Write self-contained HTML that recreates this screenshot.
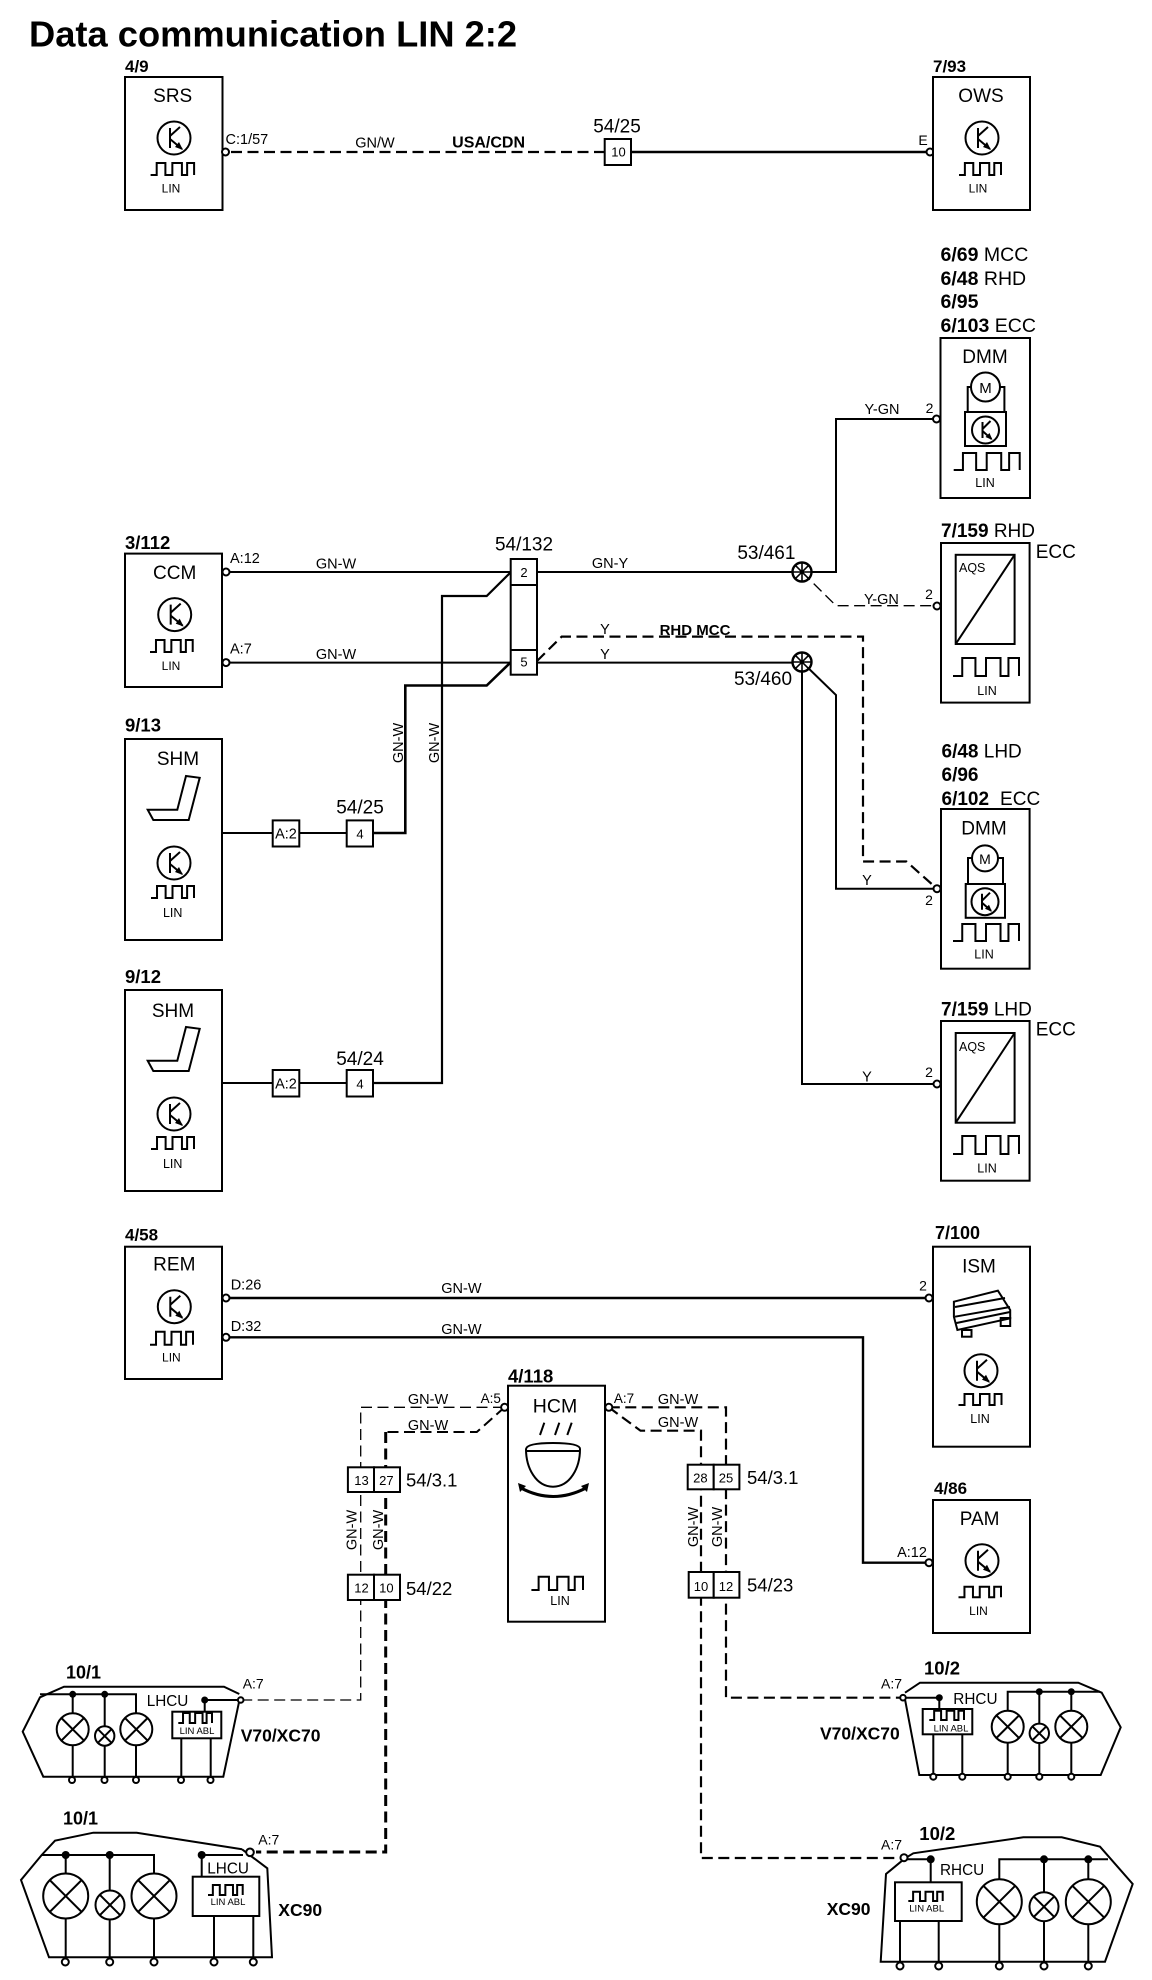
<!DOCTYPE html>
<html><head><meta charset="utf-8"><style>
html,body{margin:0;padding:0;background:#fff}
svg{display:block}
text{font-family:"Liberation Sans",sans-serif;fill:#000;stroke:none}
.c{text-anchor:middle}.b{font-weight:bold}
.n{fill:none;stroke:#000;stroke-width:2}
.r{fill:#fff;stroke:#000;stroke-width:2}
.p{fill:#fff;stroke:#000;stroke-width:2}
.d{fill:none;stroke:#000;stroke-width:2.2;stroke-dasharray:11 5.5}
.t{fill:none;stroke:#000;stroke-width:1.3;stroke-dasharray:11 5.5}
.h{fill:none;stroke:#000;stroke-width:3;stroke-dasharray:11 5.5}
</style></head><body>
<svg width="1152" height="1980" viewBox="0 0 1152 1980" xmlns="http://www.w3.org/2000/svg">
<defs>
<symbol id="w" viewBox="0 0 100 100" preserveAspectRatio="none" overflow="visible"><path vector-effect="non-scaling-stroke" d="M0 100H14V0H34V100H50V0H72V100H84V0H100V100" fill="none" stroke="#000" stroke-width="2"/></symbol>
<g id="k"><circle r="16.5" fill="#fff" stroke="#000" stroke-width="2"/><path d="M-4-10V10M-4-2L6-11M-4 1L8 11" fill="none" stroke="#000" stroke-width="2"/><path d="M9 12L1 9 5 4Z"/></g>
<g id="k2"><circle r="13.5" fill="#fff" stroke="#000" stroke-width="2"/><path d="M-3-8V8M-3-1L5-9M-3 1L6 9" fill="none" stroke="#000" stroke-width="2"/><path d="M7 10L0 7 4 3Z"/></g>
<g id="L16"><circle r="16" fill="#fff" stroke="#000" stroke-width="2"/><path d="M-11.3-11.3L11.3 11.3M-11.3 11.3L11.3-11.3" stroke="#000" stroke-width="2"/></g>
<g id="L10"><circle r="9.7" fill="#fff" stroke="#000" stroke-width="2"/><path d="M-6.9-6.9L6.9 6.9M-6.9 6.9L6.9-6.9" stroke="#000" stroke-width="2"/></g>
<g id="L22"><circle r="22.5" fill="#fff" stroke="#000" stroke-width="2"/><path d="M-16-16L16 16M-16 16L16-16" stroke="#000" stroke-width="2"/></g>
<g id="L14"><circle r="14.5" fill="#fff" stroke="#000" stroke-width="2"/><path d="M-10.3-10.3L10.3 10.3M-10.3 10.3L10.3-10.3" stroke="#000" stroke-width="2"/></g>
<g id="j"><circle r="9.5" fill="#fff" stroke="#000" stroke-width="2.4"/><path d="M-9.5 0H9.5M0-9.5V9.5M-6.7-6.7L6.7 6.7M-6.7 6.7L6.7-6.7" stroke="#000" stroke-width="1.6"/></g>
</defs>

<text x="29" y="46.5" font-size="36.3" class="b">Data communication LIN 2:2</text>

<!-- wires -->
<g class="n">
<path d="M631 152H930" stroke-width="2.6"/>
<path d="M229 572H511M537 572H802M229 662.6H511M537 662.6H802"/>
<path d="M802 572H836V419H936" stroke-width="2"/>
<path d="M511 572L486.7 596H442V1083H373" stroke-width="2.2"/>
<path d="M511 662L486.7 685.5H405.3V833H373" stroke-width="2.6"/>
<path d="M222 833H273M299 833H347M222 1083H273M299 1083H347"/>
<path d="M802 662L836 695V888.7H937"/>
<path d="M802 662V1084H937"/>
<path d="M229 1298H929" stroke-width="2.6"/>
<path d="M229 1337.3H863V1562.7H929" stroke-width="2.4"/>
</g>
<path class="d" d="M231 152H606"/>
<path class="d" d="M537 661L561.7 636.6H863V861.5H906.4L937 888.7"/>
<path class="t" d="M802 572L836 605.7H936"/>
<path class="t" d="M504 1407.3H360.7V1700H238"/>
<path class="t" style="stroke-width:2" d="M504.6 1407.3L476.8 1432H385.7"/>
<path class="h" d="M385.7 1432V1852H256"/>
<path class="d" d="M608.8 1407.3H726V1697.7H903"/>
<path class="d" d="M608.8 1407.3L640.5 1430.7H701V1858H901"/>

<!-- SRS -->
<rect class="r" x="125" y="77" width="97.5" height="133"/>
<text x="125" y="72" font-size="17" class="b">4/9</text>
<text x="172.7" y="102" font-size="19" class="c">SRS</text>
<use href="#k" transform="translate(174 138)"/>
<use href="#w" x="150.6" y="163" width="43.5" height="12"/>
<text x="171" y="192.7" font-size="12" class="c">LIN</text>
<circle class="p" cx="225.5" cy="152" r="3.5"/>
<text x="225.5" y="144" font-size="14.5">C:1/57</text>
<text x="375" y="147.6" font-size="14.5" class="c">GN/W</text>
<text x="488.6" y="147.6" font-size="16" class="c b">USA/CDN</text>
<text x="617" y="132.7" font-size="19" class="c">54/25</text>
<rect class="r" x="604.7" y="139" width="26.3" height="26"/>
<text x="618.5" y="156.5" font-size="13" class="c">10</text>
<!-- OWS -->
<circle class="p" cx="930" cy="152" r="3.5"/>
<text x="923" y="145" font-size="14" class="c">E</text>
<rect class="r" x="933" y="77" width="97" height="133"/>
<text x="933" y="72" font-size="17" class="b">7/93</text>
<text x="981" y="102" font-size="19" class="c">OWS</text>
<use href="#k" transform="translate(982 138)"/>
<use href="#w" x="959" y="163" width="42" height="12"/>
<text x="978" y="192.7" font-size="12" class="c">LIN</text>

<!-- DMM top -->
<g font-size="19.5">
<text x="940.5" y="261"><tspan class="b">6/69</tspan> MCC</text>
<text x="940.5" y="285"><tspan class="b">6/48</tspan> RHD</text>
<text x="940.5" y="308" class="b">6/95</text>
<text x="940.5" y="332"><tspan class="b">6/103</tspan> ECC</text>
</g>
<rect class="r" x="940.5" y="338" width="89.5" height="160"/>
<text x="985" y="363" font-size="19" class="c">DMM</text>
<path class="n" d="M967.7 412V387H1004.4V412"/>
<circle cx="985.5" cy="387" r="14.5" fill="#fff" stroke="#000" stroke-width="2"/>
<text x="985.5" y="393" font-size="15" class="c">M</text>
<rect class="r" x="965" y="412" width="41" height="34"/>
<use href="#k2" transform="translate(985.5 430)"/>
<use href="#w" x="953.7" y="453" width="66" height="17"/>
<text x="985" y="487" font-size="12.5" class="c">LIN</text>
<circle class="p" cx="936.5" cy="419" r="3.5"/>
<text x="929.5" y="413" font-size="14" class="c">2</text>
<text x="882" y="414" font-size="14.5" class="c">Y-GN</text>

<!-- CCM -->
<rect class="r" x="125" y="553.6" width="97" height="133.4"/>
<text x="125" y="549" font-size="18.5" class="b">3/112</text>
<text x="174.7" y="579" font-size="19" class="c">CCM</text>
<use href="#k" transform="translate(174.7 614.6)"/>
<use href="#w" x="150" y="640" width="42.7" height="12"/>
<text x="171" y="670" font-size="12" class="c">LIN</text>
<circle class="p" cx="226" cy="572" r="3.5"/>
<circle class="p" cx="226" cy="662.6" r="3.5"/>
<text x="230" y="563" font-size="14.5">A:12</text>
<text x="230" y="653.6" font-size="14.5">A:7</text>
<text x="336" y="568.4" font-size="14.5" class="c">GN-W</text>
<text x="336" y="659" font-size="14.5" class="c">GN-W</text>

<!-- connector 54/132 -->
<rect class="r" x="510.7" y="559" width="26.3" height="115.7"/>
<path class="n" d="M510.7 585H537M510.7 650H537"/>
<text x="524" y="550.5" font-size="19" class="c">54/132</text>
<text x="524" y="577" font-size="13" class="c">2</text>
<text x="524" y="666.6" font-size="13" class="c">5</text>

<!-- SHM 9/13 -->
<rect class="r" x="125" y="739" width="97" height="201"/>
<text x="125" y="731.6" font-size="18.5" class="b">9/13</text>
<text x="178" y="765" font-size="19" class="c">SHM</text>
<path class="n" d="M147.7 809.7H177.3L186 776 199.7 777.8 188.7 820H153.3Z"/>
<use href="#k" transform="translate(174 863)"/>
<use href="#w" x="151" y="886" width="43" height="12"/>
<text x="172.7" y="917" font-size="12.5" class="c">LIN</text>
<rect class="r" x="272.7" y="820.4" width="26.6" height="26.1"/>
<text x="286" y="838.4" font-size="14.5" class="c">A:2</text>
<rect class="r" x="346.7" y="820.4" width="26.3" height="26.1"/>
<text x="360" y="838.4" font-size="13" class="c">4</text>
<text x="360" y="813.7" font-size="19" class="c">54/25</text>
<text transform="translate(403 743) rotate(-90)" font-size="14.5" class="c">GN-W</text>
<text transform="translate(439 743) rotate(-90)" font-size="14.5" class="c">GN-W</text>

<!-- SHM 9/12 -->
<rect class="r" x="125" y="990" width="97" height="201"/>
<text x="125" y="983" font-size="18.5" class="b">9/12</text>
<text x="173" y="1017" font-size="19" class="c">SHM</text>
<path class="n" d="M147.7 1060.7H177.3L186 1027 199.7 1028.8 188.7 1071H153.3Z"/>
<use href="#k" transform="translate(174 1114)"/>
<use href="#w" x="151" y="1137" width="43" height="12"/>
<text x="172.7" y="1168" font-size="12.5" class="c">LIN</text>
<rect class="r" x="272.7" y="1070" width="26.6" height="26.5"/>
<text x="286" y="1088.4" font-size="14.5" class="c">A:2</text>
<rect class="r" x="346.7" y="1070" width="26.3" height="26.5"/>
<text x="360" y="1088.4" font-size="13" class="c">4</text>
<text x="360" y="1065" font-size="19" class="c">54/24</text>

<!-- middle right -->
<use href="#j" transform="translate(802 572)"/>
<use href="#j" transform="translate(802 662)"/>
<text x="766.4" y="559" font-size="19" class="c">53/461</text>
<text x="763" y="685" font-size="19" class="c">53/460</text>
<text x="610" y="568" font-size="14.5" class="c">GN-Y</text>
<text x="881.4" y="604" font-size="14.5" class="c">Y-GN</text>
<text x="929" y="599" font-size="14" class="c">2</text>
<text x="605" y="634" font-size="14.5" class="c">Y</text>
<text x="695" y="635" font-size="15" class="c b">RHD MCC</text>
<text x="605" y="659" font-size="14.5" class="c">Y</text>
<text x="867" y="885" font-size="14.5" class="c">Y</text>
<text x="929" y="905" font-size="14" class="c">2</text>
<text x="867" y="1081.6" font-size="14.5" class="c">Y</text>
<text x="929" y="1077" font-size="14" class="c">2</text>

<!-- AQS RHD -->
<text x="941" y="537" font-size="19"><tspan class="b">7/159</tspan> RHD</text>
<rect class="r" x="941" y="543" width="88.6" height="159.6"/>
<text x="1035.7" y="558" font-size="19">ECC</text>
<rect class="r" x="955.7" y="554.8" width="58.9" height="89.2"/>
<path class="n" d="M955.7 644L1014.6 554.8"/>
<text x="959" y="572" font-size="12.5">AQS</text>
<use href="#w" x="953" y="658" width="66" height="18"/>
<text x="987" y="695" font-size="12.5" class="c">LIN</text>
<circle class="p" cx="937" cy="606" r="3.5"/>

<!-- DMM LHD -->
<g font-size="19">
<text x="941.5" y="757.5"><tspan class="b">6/48</tspan> LHD</text>
<text x="941.5" y="781" class="b">6/96</text>
<text x="941.5" y="805"><tspan class="b">6/102</tspan><tspan dx="11">ECC</tspan></text>
</g>
<rect class="r" x="941" y="809" width="88.6" height="159.7"/>
<text x="984" y="834.7" font-size="19" class="c">DMM</text>
<path class="n" d="M968 884V858H1003V884"/>
<circle cx="985" cy="858.4" r="13" fill="#fff" stroke="#000" stroke-width="2"/>
<text x="985" y="864" font-size="14" class="c">M</text>
<rect class="r" x="965.7" y="884" width="39.3" height="33.8"/>
<use href="#k2" transform="translate(985 901.7)"/>
<use href="#w" x="953" y="924" width="66" height="17"/>
<text x="984" y="958.4" font-size="12.5" class="c">LIN</text>
<circle class="p" cx="937" cy="888.7" r="3.5"/>

<!-- AQS LHD -->
<text x="941" y="1015.5" font-size="19"><tspan class="b">7/159</tspan> LHD</text>
<rect class="r" x="941" y="1021" width="88.6" height="159.7"/>
<text x="1035.7" y="1035.6" font-size="19">ECC</text>
<rect class="r" x="955.7" y="1033" width="58.9" height="89.7"/>
<path class="n" d="M955.7 1122.7L1014.6 1033"/>
<text x="959" y="1051" font-size="12.5">AQS</text>
<use href="#w" x="953" y="1136" width="66" height="18"/>
<text x="987" y="1172.7" font-size="12.5" class="c">LIN</text>
<circle class="p" cx="937" cy="1084" r="3.5"/>

<!-- REM -->
<rect class="r" x="125" y="1246.7" width="97" height="132.3"/>
<text x="125" y="1240.7" font-size="17" class="b">4/58</text>
<text x="174.3" y="1270.7" font-size="19" class="c">REM</text>
<use href="#k" transform="translate(174.3 1306.7)"/>
<use href="#w" x="150" y="1331.7" width="43" height="13"/>
<text x="171.4" y="1361.7" font-size="12" class="c">LIN</text>
<circle class="p" cx="226" cy="1298" r="3.5"/>
<circle class="p" cx="226" cy="1337.3" r="3.5"/>
<text x="230.7" y="1289.3" font-size="14.5">D:26</text>
<text x="230.7" y="1331" font-size="14.5">D:32</text>
<text x="461.4" y="1293" font-size="14.5" class="c">GN-W</text>
<text x="461.4" y="1334" font-size="14.5" class="c">GN-W</text>

<!-- ISM -->
<rect class="r" x="933" y="1246.7" width="97" height="200"/>
<text x="935" y="1239" font-size="18" class="b">7/100</text>
<text x="979" y="1272.7" font-size="19" class="c">ISM</text>
<text x="923" y="1290.7" font-size="14" class="c">2</text>
<circle class="p" cx="929" cy="1298" r="3.5"/>
<path class="n" d="M953.9 1301.7L997.9 1290.7 1010.2 1310V1318.3L957.4 1330 953.9 1316.7Z"/>
<path class="n" d="M955 1307L1005 1298M955 1316.7L1010 1307M956.5 1323L1010 1312"/>
<rect class="n" x="962" y="1330" width="9.5" height="6.7"/>
<rect class="n" x="1000.7" y="1318" width="9.5" height="8"/>
<use href="#k" transform="translate(981 1370.7)"/>
<use href="#w" x="958.5" y="1394" width="43" height="11"/>
<text x="980" y="1423" font-size="12.5" class="c">LIN</text>

<!-- PAM -->
<rect class="r" x="933" y="1500" width="97" height="133"/>
<text x="934" y="1494" font-size="17" class="b">4/86</text>
<text x="979.6" y="1525" font-size="19" class="c">PAM</text>
<text x="912" y="1557" font-size="14.5" class="c">A:12</text>
<circle class="p" cx="929" cy="1562.7" r="3.5"/>
<use href="#k" transform="translate(982 1560.7)"/>
<use href="#w" x="958.5" y="1586.7" width="42.5" height="10.5"/>
<text x="978.5" y="1615" font-size="12" class="c">LIN</text>

<!-- HCM -->
<rect class="r" x="508" y="1385.7" width="97" height="236"/>
<text x="508" y="1382.7" font-size="18.5" class="b">4/118</text>
<text x="555" y="1412.7" font-size="19.5" class="c">HCM</text>
<path class="n" d="M540 1435L544.3 1422.7M555 1435L559.3 1422.7M567.3 1435L571.7 1422.7"/>
<path class="n" stroke-width="2.4" d="M526 1449Q527 1443 553 1443Q580 1443 580 1449C580 1468 570 1486.7 553 1486.7C536 1486.7 526 1468 526 1449ZM526 1451H580"/>
<path fill="none" stroke="#000" stroke-width="3" d="M521 1488Q553 1505 586 1488"/>
<path d="M518 1483L526 1486 520 1492ZM589 1483L581 1486 587 1492Z"/>
<use href="#w" x="531.4" y="1576.7" width="51.6" height="13.3"/>
<text x="560" y="1605" font-size="12.5" class="c">LIN</text>
<circle class="p" cx="504.6" cy="1407.3" r="3.5"/>
<circle class="p" cx="608.8" cy="1407.3" r="3.5"/>
<text x="490.7" y="1403" font-size="13.5" class="c">A:5</text>
<text x="624" y="1403" font-size="13.5" class="c">A:7</text>
<text x="428" y="1404" font-size="14.5" class="c">GN-W</text>
<text x="428" y="1430" font-size="14.5" class="c">GN-W</text>
<text x="678" y="1404" font-size="14.5" class="c">GN-W</text>
<text x="678" y="1427" font-size="14.5" class="c">GN-W</text>

<!-- left connectors -->
<rect class="r" x="347.9" y="1467.3" width="26.1" height="24.7"/>
<rect class="r" x="374" y="1467.3" width="26" height="24.7"/>
<text x="361.5" y="1485" font-size="13" class="c">13</text>
<text x="386.4" y="1485" font-size="13" class="c">27</text>
<text x="406" y="1486.7" font-size="18.5">54/3.1</text>
<rect class="r" x="347.9" y="1574.7" width="26.1" height="25.3"/>
<rect class="r" x="374" y="1574.7" width="26" height="25.3"/>
<text x="361.5" y="1592.7" font-size="13" class="c">12</text>
<text x="386.4" y="1592.7" font-size="13" class="c">10</text>
<text x="406" y="1595" font-size="18.5">54/22</text>
<text transform="translate(356.4 1530) rotate(-90)" font-size="14.5" class="c">GN-W</text>
<text transform="translate(382.9 1530) rotate(-90)" font-size="14.5" class="c">GN-W</text>

<!-- right connectors -->
<rect class="r" x="687.7" y="1464.7" width="26" height="24.6"/>
<rect class="r" x="713.7" y="1464.7" width="25.7" height="24.6"/>
<text x="700.4" y="1482.7" font-size="13" class="c">28</text>
<text x="726" y="1482.7" font-size="13" class="c">25</text>
<text x="747" y="1484" font-size="18.5">54/3.1</text>
<rect class="r" x="688.7" y="1572" width="25" height="25.7"/>
<rect class="r" x="713.7" y="1572" width="25.7" height="25.7"/>
<text x="701" y="1591" font-size="13" class="c">10</text>
<text x="726" y="1591" font-size="13" class="c">12</text>
<text x="747" y="1591.7" font-size="18.5">54/23</text>
<text transform="translate(698 1527) rotate(-90)" font-size="14.5" class="c">GN-W</text>
<text transform="translate(722 1527) rotate(-90)" font-size="14.5" class="c">GN-W</text>

<!-- 10/1 V70 -->
<text x="66" y="1678.7" font-size="18" class="b">10/1</text>
<path class="n" d="M239.3 1694L224 1686.7H64L40 1697.3 22.7 1731.7 43.3 1776.7H223.3L239.3 1700.7"/>
<path class="n" d="M40 1694.3H136V1776.7M72.7 1694.3V1776.7M104.7 1694.3V1776.7M181.3 1738V1776.7M210.7 1738V1776.7"/>
<path class="n" stroke-width="1.5" d="M204.7 1700H238M204.7 1700V1711.7"/>
<use href="#L16" transform="translate(72.7 1729.3)"/>
<use href="#L10" transform="translate(104.7 1736)"/>
<use href="#L16" transform="translate(136.3 1729.3)"/>
<circle cx="72.7" cy="1694.3" r="3.5"/><circle cx="104.7" cy="1694.3" r="3.5"/><circle cx="204.7" cy="1700" r="3.5"/>
<rect class="r" x="172.3" y="1711.7" width="49" height="26.6"/>
<use href="#w" x="178.3" y="1713" width="33.7" height="10"/>
<text x="197" y="1734" font-size="9.5" class="c">LIN ABL</text>
<text x="146.7" y="1706" font-size="15.3">LHCU</text>
<circle class="p" cx="240.7" cy="1700" r="2.8"/>
<text x="242.7" y="1688.7" font-size="14">A:7</text>
<text x="240.7" y="1741.7" font-size="17.5" class="b">V70/XC70</text>
<circle class="p" cx="72" cy="1780" r="3"/><circle class="p" cx="104.5" cy="1780" r="3"/><circle class="p" cx="136" cy="1780" r="3"/><circle class="p" cx="181" cy="1780" r="3"/><circle class="p" cx="210.5" cy="1780" r="3"/>

<!-- 10/1 XC90 -->
<text x="63" y="1824.3" font-size="18" class="b">10/1</text>
<path class="n" d="M242 1849.3L136.7 1832.7H93.3L55 1840.7 41.7 1855 21 1880 49 1957.3H272L267.3 1868.3 242 1849.3"/>
<path class="n" d="M41.7 1855H154V1957.3M65.7 1855V1957.3M109.7 1855V1957.3M201.7 1855H243M201.7 1855V1876.7M214 1916V1957.3M253.3 1916V1957.3"/>
<use href="#L22" transform="translate(65.7 1896)"/>
<use href="#L14" transform="translate(110 1905)"/>
<use href="#L22" transform="translate(154 1896)"/>
<circle cx="65.7" cy="1855" r="4"/><circle cx="109.7" cy="1855" r="4"/><circle cx="201.7" cy="1855" r="4"/>
<rect class="r" x="192.7" y="1876.7" width="66.6" height="39.3"/>
<use href="#w" x="208" y="1885" width="34.7" height="10"/>
<text x="228" y="1905" font-size="9.5" class="c">LIN ABL</text>
<text x="207.3" y="1873.3" font-size="15.3">LHCU</text>
<circle class="p" cx="250" cy="1852.3" r="3.8"/>
<text x="258.3" y="1844.7" font-size="14">A:7</text>
<text x="278.3" y="1916" font-size="17.5" class="b">XC90</text>
<circle class="p" cx="65.3" cy="1962" r="3.5"/><circle class="p" cx="109.7" cy="1962" r="3.5"/><circle class="p" cx="154" cy="1962" r="3.5"/><circle class="p" cx="214" cy="1962" r="3.5"/><circle class="p" cx="253.3" cy="1962" r="3.5"/>

<!-- 10/2 V70 -->
<text x="924" y="1674.7" font-size="18.5" class="b">10/2</text>
<path class="n" d="M905 1692.7L920 1682.7H1078.3L1101.7 1692.7 1120.7 1727.3 1100.7 1775H919.3L905 1699.3"/>
<path class="n" d="M903 1697.7H939.3V1709M933.3 1734V1775M962.3 1734V1775M1100 1691.7H1007.7V1775M1039.3 1691.7V1775M1071.3 1691.7V1775"/>
<use href="#L16" transform="translate(1007.7 1726.7)"/>
<use href="#L10" transform="translate(1039.3 1733.3)"/>
<use href="#L16" transform="translate(1071.3 1726.7)"/>
<circle cx="939.3" cy="1697.7" r="3.5"/><circle cx="1039.3" cy="1691.7" r="3.5"/><circle cx="1071.3" cy="1691.7" r="3.5"/>
<rect class="r" x="922.7" y="1709" width="49.6" height="25.3"/>
<use href="#w" x="929.3" y="1710.7" width="34.7" height="9.3"/>
<text x="951" y="1731.3" font-size="9.5" class="c">LIN ABL</text>
<text x="953.3" y="1704" font-size="15.3">RHCU</text>
<circle class="p" cx="903" cy="1697.7" r="2.8"/>
<text x="881" y="1688.3" font-size="14">A:7</text>
<text x="820" y="1739.3" font-size="17.5" class="b">V70/XC70</text>
<circle class="p" cx="933.3" cy="1776.7" r="3"/><circle class="p" cx="962.3" cy="1776.7" r="3"/><circle class="p" cx="1007.7" cy="1776.7" r="3"/><circle class="p" cx="1039.3" cy="1776.7" r="3"/><circle class="p" cx="1071.3" cy="1776.7" r="3"/>

<!-- 10/2 XC90 -->
<text x="919.3" y="1840" font-size="18.5" class="b">10/2</text>
<path class="n" d="M905 1858.3L913.3 1853.3 1023.3 1837.3H1061.7L1100 1846.7 1132.7 1884 1105 1961.7H880.7L886 1874 905 1858.3"/>
<path class="n" d="M904 1859.3H930.7M1108 1859.3H999.3V1961.7M1044 1859.3V1961.7M1088.3 1859.3V1961.7M938.7 1921V1961.7"/>
<path class="n" stroke-width="1.3" d="M930.7 1859.3V1882.3M900 1921V1961.7"/>
<use href="#L22" transform="translate(999.3 1901.7)"/>
<use href="#L14" transform="translate(1044 1906.7)"/>
<use href="#L22" transform="translate(1088.3 1901.7)"/>
<circle cx="930.7" cy="1859.3" r="4"/><circle cx="1044" cy="1859.3" r="4"/><circle cx="1088.3" cy="1859.3" r="4"/>
<rect class="r" x="895" y="1882.3" width="66.7" height="38.7"/>
<use href="#w" x="908.3" y="1891.7" width="34.4" height="9.3"/>
<text x="926.7" y="1911.7" font-size="9.5" class="c">LIN ABL</text>
<text x="940" y="1875" font-size="15.3">RHCU</text>
<circle class="p" cx="904" cy="1857.7" r="3.5"/>
<text x="881" y="1849.3" font-size="14">A:7</text>
<text x="826.7" y="1915" font-size="17.5" class="b">XC90</text>
<circle class="p" cx="900" cy="1966" r="3.5"/><circle class="p" cx="938.7" cy="1966" r="3.5"/><circle class="p" cx="999.3" cy="1966" r="3.5"/><circle class="p" cx="1044" cy="1966" r="3.5"/><circle class="p" cx="1088.3" cy="1966" r="3.5"/>
</svg>
</body></html>
